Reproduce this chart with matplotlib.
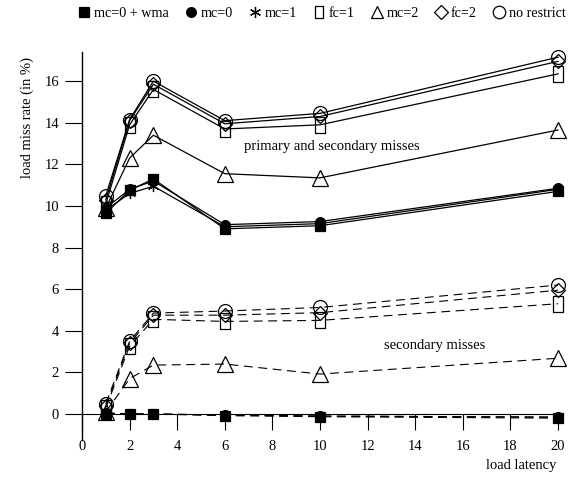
import matplotlib
matplotlib.use("Agg")
import matplotlib.pyplot as plt
from matplotlib.lines import Line2D

plt.rcParams['font.family'] = ['Liberation Serif', 'DejaVu Serif']

latency = [1, 2, 3, 6, 10, 20]

# primary and secondary misses (solid)
prim_wma = [9.65, 10.75, 11.3, 8.9, 9.05, 10.7]
prim_mc0 = [9.9, 10.8, 11.2, 9.1, 9.25, 10.85]
prim_mc1 = [9.8, 10.6, 10.95, 9.0, 9.15, 10.8]
prim_fc1 = [10.1, 13.9, 15.6, 13.7, 13.9, 16.35]
prim_mc2 = [9.9, 12.3, 13.4, 11.55, 11.35, 13.65]
prim_fc2 = [10.3, 14.1, 15.85, 13.95, 14.3, 16.95]
prim_nr = [10.5, 14.15, 16.0, 14.1, 14.45, 17.15]

# secondary misses only (dashed)
sec_wma = [0.0, 0.0, 0.0, -0.08, -0.13, -0.2]
sec_mc0 = [0.05, 0.0, 0.0, -0.05, -0.1, -0.15]
sec_mc1 = [0.05, 0.0, 0.0, -0.05, -0.1, -0.15]
sec_fc1 = [0.3, 3.25, 4.55, 4.45, 4.5, 5.3]
sec_mc2 = [0.1, 1.7, 2.35, 2.4, 1.92, 2.68]
sec_fc2 = [0.4, 3.4, 4.75, 4.75, 4.87, 5.95]
sec_nr = [0.5, 3.5, 4.85, 4.95, 5.12, 6.2]

names = ['mc=0 + wma', 'mc=0', 'mc=1', 'fc=1', 'mc=2', 'fc=2', 'no restrict']
prim = [prim_wma, prim_mc0, prim_mc1, prim_fc1, prim_mc2, prim_fc2, prim_nr]
sec = [sec_wma, sec_mc0, sec_mc1, sec_fc1, sec_mc2, sec_fc2, sec_nr]

rect = [(-0.33, -0.5), (0.33, -0.5), (0.33, 0.5), (-0.33, 0.5), (-0.33, -0.5)]
styles = [
    dict(marker='s', ms=7, mfc='black'),
    dict(marker='o', ms=7, mfc='black'),
    dict(marker=(6, 2, 0), ms=8, mfc='black'),
    dict(marker=rect, ms=11, mfc='none'),
    dict(marker='^', ms=11, mfc='none'),
    dict(marker='D', ms=7, mfc='none'),
    dict(marker='o', ms=10, mfc='none'),
]

fig = plt.figure(figsize=(5.72, 4.8), dpi=100)
ax = fig.add_axes([82 / 572, 40 / 480, 476 / 572, 388 / 480])

# draw from the top curve down so filled markers end on top
for i in reversed(range(len(names))):
    st = styles[i]
    ax.plot(latency, prim[i], color='black', lw=0.9, mec='black', mew=0.9,
            clip_on=False, zorder=3 if i > 2 else 4, **st)
    ax.plot(latency, sec[i], color='black', lw=0.8, ls=(0, (8, 5)), mec='black', mew=0.9,
            clip_on=False, zorder=3 if i > 2 else 4, **st)

ax.set_xlim(0, 20)
ax.set_ylim(-1.25, 17.4)
ax.set_xticks(range(0, 21, 2))
ax.set_yticks(range(0, 17, 2))

ax.spines['top'].set_visible(False)
ax.spines['right'].set_visible(False)
ax.spines['bottom'].set_position(('data', 0))
ax.spines['bottom'].set_bounds(0, 20.2)
ax.spines['left'].set_linewidth(1.0)
ax.spines['bottom'].set_linewidth(0.8)
ax.tick_params(axis='x', direction='out', length=11.5, width=0.8, pad=7, labelsize=10.5)
ax.tick_params(axis='y', direction='out', length=12.5, width=0.8, pad=4, labelsize=10.5)

ax.text(10.5, 12.85, 'primary and secondary misses', fontsize=10.5, ha='center', va='center')
ax.text(14.8, 3.3, 'secondary misses', fontsize=10.5, ha='center', va='center')
fig.text(521 / 572, 1 - 465 / 480, 'load latency', fontsize=10.5, ha='center', va='center')
fig.text(27 / 572, 1 - 117 / 480, 'load miss rate (in %)', fontsize=10.5, rotation=90,
         ha='center', va='center')

handles = [Line2D([], [], ls='none', color='black', mec='black', mew=0.9,
                  **dict(styles[i], ms=min(styles[i]['ms'], 9))) for i in range(len(names))]
fig.legend(handles, names, loc='upper left', bbox_to_anchor=(72 / 572, 1.0), ncol=7,
           frameon=False, fontsize=10.2, handlelength=0.7, handletextpad=0.35,
           columnspacing=1.2, borderaxespad=0.2, borderpad=0.3)

fig.savefig('out.png', dpi=100)
